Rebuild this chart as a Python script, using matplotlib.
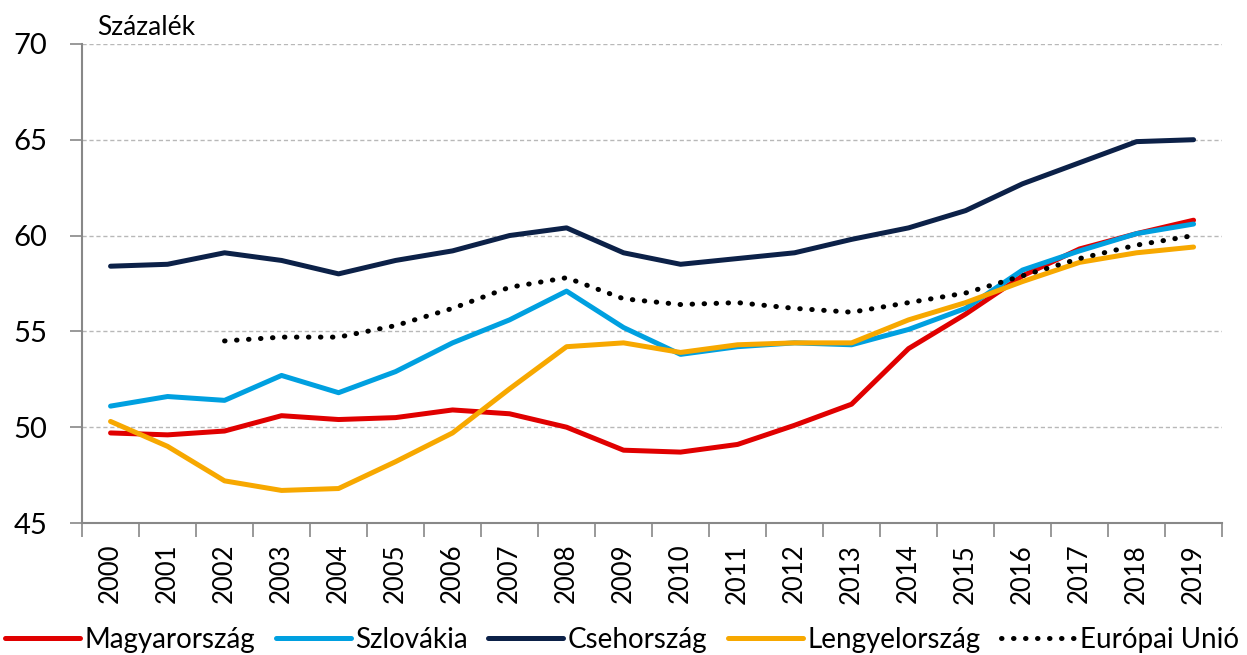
import matplotlib
matplotlib.use('Agg')
import matplotlib.pyplot as plt
import numpy as np

plt.rcParams['font.family'] = ['Lato', 'DejaVu Sans']

years = [str(y) for y in range(2000, 2020)]
hun = [49.7, 49.6, 49.8, 50.6, 50.4, 50.5, 50.9, 50.7, 50.0, 48.8,
       48.7, 49.1, 50.1, 51.2, 54.1, 55.9, 57.9, 59.3, 60.1, 60.8]
svk = [51.1, 51.6, 51.4, 52.7, 51.8, 52.9, 54.4, 55.6, 57.1, 55.2,
       53.8, 54.2, 54.4, 54.3, 55.1, 56.2, 58.2, 59.2, 60.1, 60.6]
cze = [58.4, 58.5, 59.1, 58.7, 58.0, 58.7, 59.2, 60.0, 60.4, 59.1,
       58.5, 58.8, 59.1, 59.8, 60.4, 61.3, 62.7, 63.8, 64.9, 65.0]
pol = [50.3, 49.0, 47.2, 46.7, 46.8, 48.2, 49.7, 52.0, 54.2, 54.4,
       53.9, 54.3, 54.4, 54.4, 55.6, 56.5, 57.6, 58.6, 59.1, 59.4]
eu = [np.nan, np.nan, 54.5, 54.7, 54.7, 55.3, 56.2, 57.3, 57.8, 56.7,
      56.4, 56.5, 56.2, 56.0, 56.5, 57.0, 57.9, 58.8, 59.5, 60.0]

fig = plt.figure(figsize=(12.47, 6.55), dpi=100)
ax = fig.add_axes([0.0658, 0.2015, 0.9142, 0.7315])

x = np.arange(len(years))
lw = 3.6
ax.plot(x, hun, color='#e00000', lw=lw, label='Magyarország', solid_capstyle='round')
ax.plot(x, svk, color='#00a0e0', lw=lw, label='Szlovákia', solid_capstyle='round')
ax.plot(x, cze, color='#0c2148', lw=lw, label='Csehország', solid_capstyle='round')
ax.plot(x, pol, color='#f7a800', lw=lw, label='Lengyelország', solid_capstyle='round')
ax.plot(x, eu, color='black', lw=3.6, linestyle=(0, (0.1, 2.3)),
        dash_capstyle='round', label='Európai Unió')

ax.set_xlim(-0.5, len(years) - 0.5)
ax.set_ylim(45, 70)
ax.set_yticks(range(45, 71, 5))
ax.yaxis.grid(True, linestyle=(0, (3, 2)), color='#b8b8b8', lw=1)
ax.set_axisbelow(True)

ax.set_xticks(x)
ax.set_xticklabels(years, rotation=90, fontsize=18.5)
ax.set_xticks(np.arange(-0.5, len(years)), minor=True)
ax.tick_params(axis='x', which='major', length=0, pad=15)
ax.tick_params(axis='x', which='minor', length=10, color='#888888', width=1.2)
ax.tick_params(axis='y', labelsize=21, length=9, color='#888888', width=1.2, pad=16)

for s in ['top', 'right']:
    ax.spines[s].set_visible(False)
for s in ['left', 'bottom']:
    ax.spines[s].set_color('#888888')
    ax.spines[s].set_linewidth(1.5)

fig.text(0.078, 0.958, 'Százalék', fontsize=19, va='center', ha='left')

fig.legend(loc='center', bbox_to_anchor=(0.499, 0.023), ncol=5, frameon=False,
           fontsize=20, handlelength=2.7, handletextpad=0.15, columnspacing=0.75,
           borderaxespad=0)

fig.savefig('out.png', dpi=100)
